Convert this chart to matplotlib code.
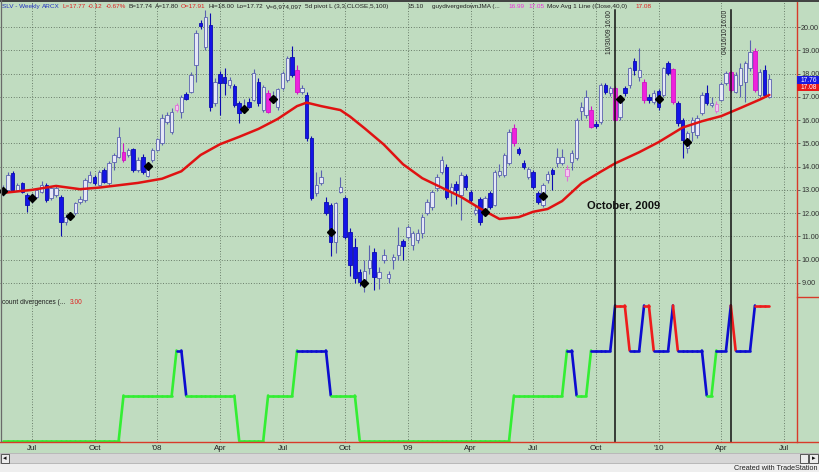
import matplotlib
matplotlib.use('Agg')
import matplotlib.pyplot as plt
from matplotlib.collections import LineCollection
from matplotlib.patches import Rectangle
from matplotlib.lines import Line2D
import matplotlib.transforms as mtransforms
import numpy as np
import pandas as pd

plt.rcParams['font.family'] = ['Liberation Sans', 'DejaVu Sans']

# ---------------- data ----------------
start_date = '2007-05-25'   # first weekly bar (Friday)

opens = [12.85, 13.0, 13.71, 13.0, 13.28, 12.78, 12.6, 12.71, 12.92, 13.21,
         12.64, 12.78, 12.71, 11.63, 11.8, 12.0, 12.49, 12.57, 13.35, 13.57,
         13.21, 13.85, 13.28, 14.21, 14.43, 14.64, 14.5, 14.74, 13.85, 14.43,
         13.6, 14.28, 14.71, 15.0, 15.93, 15.5, 16.43, 16.36, 17.11, 17.22,
         18.37, 20.18, 19.15, 20.09, 16.72, 17.98, 17.84, 17.51, 17.46, 16.72,
         16.4, 16.79, 16.86, 17.65, 16.43, 17.18, 16.9, 16.55, 17.4, 17.72,
         18.72, 18.15, 17.22, 17.08, 15.22, 12.85, 13.28, 12.49, 12.35, 10.77,
         12.92, 12.64, 11.2, 10.56, 9.46, 9.0, 9.63, 10.34, 9.2, 9.99,
         9.2, 9.99, 10.2, 10.8, 10.99, 10.63, 10.85, 11.13, 11.99, 12.28,
         13.07, 13.78, 14.0, 12.92, 13.25, 12.78, 13.6, 12.92, 11.99, 12.6,
         12.0, 12.85, 12.35, 13.64, 13.64, 14.14, 15.65, 14.74, 14.17, 13.57,
         13.78, 12.85, 12.35, 13.42, 13.85, 14.14, 14.14, 13.6, 14.21, 14.36,
         16.4, 16.22, 16.43, 15.85, 15.93, 17.51, 17.15, 17.37, 16.15, 17.37,
         17.51, 18.54, 17.84, 17.65, 16.98, 16.79, 17.26, 17.08, 18.44, 18.18,
         16.72, 16.0, 14.79, 15.5, 15.36, 16.29, 17.15, 16.65, 16.4, 16.86,
         17.58, 18.08, 17.22, 17.51, 17.65, 18.22, 18.98, 17.08, 18.15, 17.0]
highs = [13.2, 13.75, 13.8, 13.3, 13.35, 12.85, 12.85, 13.05, 13.4, 13.3,
         13.15, 13.15, 12.8, 11.95, 12.05, 12.5, 12.75, 13.5, 13.8, 13.65,
         13.85, 13.95, 14.25, 14.6, 15.72, 15.0, 14.8, 14.8, 14.4, 14.55,
         14.15, 14.8, 15.25, 16.25, 16.35, 16.5, 16.75, 17.08, 17.2, 18.05,
         19.85, 20.3, 20.73, 20.59, 17.8, 18.1, 18.23, 17.85, 17.55, 16.8,
         16.9, 16.95, 18.2, 17.8, 17.5, 17.3, 17.25, 17.4, 18.1, 18.75,
         19.18, 18.37, 17.5, 17.2, 15.3, 13.78, 13.85, 12.7, 12.45, 12.5,
         13.57, 12.75, 11.35, 10.93, 9.6, 10.0, 10.63, 10.5, 9.7, 10.45,
         9.5, 10.25, 11.4, 10.9, 11.5, 11.25, 11.3, 11.95, 12.6, 13.0,
         13.7, 14.46, 14.1, 13.3, 13.4, 13.75, 13.7, 13.0, 12.3, 12.7,
         12.75, 12.95, 13.85, 14.1, 14.6, 15.6, 15.82, 14.85, 14.3, 14.0,
         13.85, 12.95, 13.3, 13.8, 13.95, 14.79, 14.75, 14.05, 14.7, 16.1,
         16.79, 17.29, 16.6, 15.95, 17.6, 17.6, 17.45, 17.45, 17.05, 17.45,
         18.3, 18.65, 19.08, 17.75, 17.1, 17.3, 17.35, 18.3, 18.55, 18.25,
         16.8, 16.1, 15.55, 16.15, 16.2, 17.2, 17.5, 17.0, 16.8, 17.65,
         18.1, 18.15, 18.05, 18.44, 18.55, 19.44, 19.1, 18.2, 18.35, 18.0]
lows = [12.75, 12.95, 12.9, 12.95, 12.85, 12.06, 12.45, 12.65, 12.85, 12.5,
        12.55, 12.7, 11.0, 11.5, 11.75, 11.9, 12.4, 12.5, 13.3, 13.2,
        13.15, 13.3, 13.2, 13.85, 14.35, 14.2, 14.4, 13.75, 13.75, 13.7,
        13.55, 14.2, 14.65, 14.95, 15.85, 15.4, 16.35, 16.08, 16.85, 17.15,
        17.65, 19.9, 19.0, 16.4, 16.6, 16.22, 17.08, 17.4, 16.55, 15.86,
        16.3, 16.5, 16.8, 16.6, 16.35, 16.3, 16.85, 16.45, 17.3, 17.65,
        17.85, 17.1, 17.1, 15.1, 12.55, 12.75, 13.2, 11.9, 10.15, 10.29,
        12.85, 10.9, 9.3, 9.0, 8.85, 8.6, 9.4, 8.7, 8.75, 9.85,
        9.0, 9.6, 10.0, 9.99, 10.9, 10.4, 10.7, 10.95, 11.9, 12.15,
        12.95, 13.7, 12.6, 12.3, 12.4, 11.7, 13.0, 12.45, 11.9, 11.5,
        11.9, 12.2, 12.3, 13.55, 13.55, 14.05, 14.9, 14.5, 13.9, 13.45,
        13.05, 12.4, 12.25, 13.3, 13.0, 14.0, 14.05, 13.4, 13.85, 14.3,
        16.0, 16.1, 15.65, 15.65, 15.85, 17.1, 17.05, 15.95, 16.0, 17.05,
        17.4, 17.95, 17.7, 16.75, 16.75, 16.7, 16.45, 17.0, 17.95, 16.7,
        15.75, 14.36, 14.6, 15.1, 15.25, 16.2, 16.65, 16.55, 16.3, 16.8,
        17.5, 17.2, 17.15, 17.0, 16.79, 18.1, 17.2, 17.0, 17.0, 16.95]
closes = [13.05, 13.64, 13.0, 13.2, 12.92, 12.35, 12.75, 13.0, 13.21, 12.57,
          13.07, 13.07, 11.63, 11.85, 11.95, 12.42, 12.6, 13.42, 13.64, 13.28,
          13.78, 13.35, 14.17, 14.5, 15.29, 14.28, 14.71, 13.85, 14.28, 13.78,
          14.07, 14.71, 15.17, 16.08, 16.22, 16.36, 16.65, 17.0, 16.91, 17.94,
          19.73, 20.04, 20.44, 16.57, 17.65, 17.58, 17.58, 17.72, 16.65, 16.29,
          16.55, 16.57, 18.04, 16.72, 17.41, 16.36, 17.05, 17.32, 18.01, 18.65,
          17.94, 17.22, 17.37, 15.22, 12.64, 13.21, 13.57, 11.99, 10.77, 12.42,
          13.14, 10.99, 9.77, 9.2, 9.06, 9.5, 9.99, 9.27, 9.49, 10.2,
          9.39, 10.13, 10.63, 10.59, 11.39, 11.13, 11.13, 11.85, 12.49, 12.92,
          13.57, 14.28, 12.71, 13.14, 13.0, 13.64, 13.14, 12.57, 12.14, 11.63,
          12.65, 12.28, 13.78, 13.81, 14.5, 15.5, 15.0, 14.6, 13.97, 13.88,
          13.14, 12.49, 13.21, 13.68, 13.68, 14.43, 14.43, 13.9, 14.57, 16.0,
          16.55, 17.0, 15.72, 15.75, 17.51, 17.22, 17.37, 16.0, 16.94, 17.15,
          18.22, 18.15, 18.15, 16.86, 16.86, 17.18, 16.55, 18.22, 18.04, 16.79,
          15.86, 15.14, 15.43, 16.0, 16.08, 17.08, 16.72, 16.72, 16.7, 17.55,
          18.01, 17.29, 17.94, 18.22, 18.44, 18.94, 17.29, 18.08, 17.08, 17.77]

pink_bars = [25, 55, 61, 106, 122, 127, 133, 139, 151, 156]
pink_hollow_bars = [36, 117, 148]

pivot_idx = [0, 6, 14, 30, 50, 56, 68, 75, 100, 112, 128, 136, 142]
pivot_val = [12.95, 12.64, 11.88, 14.03, 16.46, 16.91, 11.18, 8.99, 12.04,
             12.75, 16.91, 16.91, 15.07]

ma_idx = [0, 6, 11, 16, 20, 24, 28, 33, 37, 41, 45, 49, 53, 57, 61, 63, 66,
          70, 72, 75, 79, 83, 87, 91, 95, 99, 103, 107, 110, 113, 116, 120,
          124, 127, 132, 136, 141, 145, 149, 153, 157, 159]
ma_val = [12.87, 13.0, 13.17, 13.03, 13.1, 13.2, 13.3, 13.48, 13.8, 14.5,
          14.96, 15.28, 15.62, 16.05, 16.6, 16.75, 16.6, 16.43, 16.15, 15.65,
          14.95, 14.1, 13.5, 13.1, 12.7, 12.2, 11.75, 11.83, 12.06, 12.18,
          12.52, 13.28, 13.78, 14.14, 14.62, 15.05, 15.68, 15.95, 16.17,
          16.52, 16.88, 17.08]

divergences = [0, 0, 0, 0, 0, 0, 0, 0, 0, 0,
               0, 0, 0, 0, 0, 0, 0, 0, 0, 0,
               0, 0, 0, 0, 0, 1, 1, 1, 1, 1,
               1, 1, 1, 1, 1, 1, 2, 2, 1, 1,
               1, 1, 1, 1, 1, 1, 1, 1, 1, 0,
               0, 0, 0, 0, 0, 1, 1, 1, 1, 1,
               1, 2, 2, 2, 2, 2, 2, 2, 1, 1,
               1, 1, 1, 1, 0, 0, 0, 0, 0, 0,
               0, 0, 0, 0, 0, 0, 0, 0, 0, 0,
               0, 0, 0, 0, 0, 0, 0, 0, 0, 0,
               0, 0, 0, 0, 0, 0, 1, 1, 1, 1,
               1, 1, 1, 1, 1, 1, 1, 2, 2, 1,
               1, 1, 2, 2, 2, 2, 2, 3, 3, 3,
               2, 2, 2, 3, 3, 2, 2, 2, 2, 3,
               2, 2, 2, 2, 2, 2, 1, 1, 2, 2,
               2, 3, 2, 2, 2, 2, 3, 3, 3, 3]

price_ticks = [9, 10, 11, 12, 13, 14, 15, 16, 17, 18, 19, 20]
event_dates = ['2009-10-30', '2010-04-16']
event_labels = ['10/30/09 16:00', '04/16/10 16:00']
last_price_label = '17.76'
ma_last_label = '17.08'

# ---------------- styling ----------------
BG = '#c0dcc0'
GRID = '#4f5f4f'
UP_FACE, UP_EDGE = '#e6e8f6', '#5a62b0'
DN_FACE, DN_EDGE = '#1414e6', '#0c0cb0'
PK_FACE, PK_EDGE = '#ee22dd', '#d014c4'
PH_FACE, PH_EDGE = '#f4c6f0', '#e070d8'

W, H = 820, 472
def fx(px): return px / W
def fy(py): return 1 - py / H

fig = plt.figure(figsize=(W / 100, H / 100), dpi=100)
fig.patch.set_facecolor(BG)
renderer = fig.canvas.get_renderer()

n = len(closes)
idx = np.arange(n)
dates = pd.date_range(start_date, periods=n + 6, freq='W-FRI')

tick_idx, tick_lab = [], []
for k in range(1, len(dates)):
    m = dates[k].month
    if m != dates[k - 1].month and m in (1, 4, 7, 10):
        tick_idx.append(k)
        tick_lab.append("'" + dates[k].strftime('%y') if m == 1 else dates[k].strftime('%b'))

ev_idx = [dates.get_loc(pd.Timestamp(d)) for d in event_dates]

# bar index -> pixel: px = 3 + 4.82 * i
XL = (-3 / 4.82, (797 - 3) / 4.82)

# main price axes: pixels y 2..294 ; price p at y = 27 + (20 - p) * 23.27
ax = fig.add_axes([0, fy(294), fx(797), 292 / H])
ax.set_facecolor(BG)
ax.set_xlim(*XL)
ax.set_ylim(20 - (294 - 27) / 23.27, 20 + (27 - 2) / 23.27)

# lower panel: pixels y 294..441.5 ; value v at y = 440.5 - 45 v
ax2 = fig.add_axes([0, fy(441.5), fx(797), (441.5 - 294) / H])
ax2.set_facecolor(BG)
ax2.set_xlim(*XL)
ax2.set_ylim((440.5 - 441.5) / 45, (440.5 - 294) / 45)

for a in (ax, ax2):
    a.set_axisbelow(True)
    for s in ('left', 'top', 'bottom'):
        a.spines[s].set_visible(False)
    a.spines['right'].set_color('#d83a2a')
    a.spines['right'].set_linewidth(1.0)
    a.set_xticks(tick_idx)
    a.grid(True, axis='x', color=GRID, ls=(0, (1, 2.2)), lw=0.6)

ax.grid(True, axis='y', color=GRID, ls=(0, (1, 2.2)), lw=0.6)
ax.tick_params(axis='x', length=0, labelbottom=False)
ax.yaxis.tick_right()
ax.set_yticks(price_ticks)
ax.set_yticklabels([f'{t:.2f}' for t in price_ticks], fontsize=5.2, color='#303030')
ax.tick_params(axis='y', length=2, width=0.6, color='#505050', pad=1)

ax2.set_yticks([])
ax2.set_xticks(tick_idx)
ax2.set_xticklabels(tick_lab, fontsize=5.8, color='#202020')
ax2.tick_params(axis='x', length=0, pad=2.5)

# ---------------- candles ----------------
face, edge = [], []
for i in range(n):
    if i in pink_bars:
        face.append(PK_FACE); edge.append(PK_EDGE)
    elif i in pink_hollow_bars:
        face.append(PH_FACE); edge.append(PH_EDGE)
    elif closes[i] >= opens[i]:
        face.append(UP_FACE); edge.append(UP_EDGE)
    else:
        face.append(DN_FACE); edge.append(DN_EDGE)

o = np.array(opens); c = np.array(closes)
body_b = np.minimum(o, c)
body_h = np.maximum(np.abs(c - o), 0.05)
ax.vlines(idx, lows, highs, colors=edge, lw=0.8, zorder=3)
ax.bar(idx, body_h, bottom=body_b, width=0.72, color=face, edgecolor=edge,
       linewidth=0.6, zorder=4)

# moving average
ax.plot(ma_idx, ma_val, color='#e01212', lw=1.8, zorder=5, solid_capstyle='round',
        solid_joinstyle='round')

# pivot diamonds
ax.plot(pivot_idx, pivot_val, ls='none', marker='D', ms=4.2, color='black', zorder=6)

# event lines
blend = mtransforms.blended_transform_factory(ax.transData, ax.transAxes)
ytop = (294 - 10) / 292
for ei, lab in zip(ev_idx, event_labels):
    ax.axvline(ei, ymin=0, ymax=ytop, color='#101010', lw=1.1, zorder=7)
    ax2.axvline(ei, color='#101010', lw=1.1, zorder=7)
    ax.annotate(lab, xy=(ei, ytop), xycoords=blend, xytext=(-3.8, 0),
                textcoords='offset points', rotation=90, ha='center', va='top',
                fontsize=4.8, color='#202020', zorder=8)

ax.text(121.1, 12.35, 'October, 2009', fontsize=8, fontweight='bold',
        color='#101010', va='center', ha='left')

# ---------------- divergence line ----------------
seg_cols = {0: '#33ee33', 1: '#33ee33', 2: '#0c0cd0', 3: '#ee1c1c'}
segs, cols = [], []
for i in range(n - 1):
    segs.append([(i, divergences[i]), (i + 1, divergences[i + 1])])
    cols.append(seg_cols[divergences[i]])
lc = LineCollection(segs, colors=cols, linewidths=1.9, capstyle='round', zorder=5)
ax2.add_collection(lc)

# ---------------- decorations ----------------
fig.add_artist(Line2D([0, 1], [fy(441.5), fy(441.5)], transform=fig.transFigure,
                      color='#d83a2a', lw=1.0))
fig.add_artist(Line2D([fx(797), 1], [fy(297), fy(297)], transform=fig.transFigure,
                      color='#d83a2a', lw=1.0))
fig.add_artist(Line2D([0, 1], [fy(0.6), fy(0.6)], transform=fig.transFigure,
                      color='#404040', lw=1.4))
fig.add_artist(Line2D([fx(0.5), fx(0.5)], [fy(0), fy(441)], transform=fig.transFigure,
                      color='#6a6a6a', lw=0.9))

fig.add_artist(Rectangle((0, 0), 1, (472 - 453) / H, transform=fig.transFigure,
                         facecolor='#eeeeee', edgecolor='none', zorder=0))
fig.add_artist(Rectangle((0, fy(463)), 1, 10 / H, transform=fig.transFigure,
                         facecolor='#d6d6d6', edgecolor='#a8a8a8', lw=0.5, zorder=1))
for (x0, x1, g) in [(1, 9, '\u25c2'), (800, 808, ''), (809, 818, '\u25b8')]:
    fig.add_artist(Rectangle((fx(x0), fy(462.5)), (x1 - x0) / W, 9 / H,
                             transform=fig.transFigure, facecolor='#ececec',
                             edgecolor='#404040', lw=0.6, zorder=2))
    if g:
        fig.text(fx((x0 + x1) / 2), fy(458), g, fontsize=5, ha='center', va='center',
                 family='DejaVu Sans', color='#101010', zorder=3)
fig.text(fx(818), fy(468), 'Created with TradeStation', fontsize=5.2, ha='right',
         va='center', color='#202020')

for (y0, y1, col, txt) in [(76, 84, '#1a1ae0', last_price_label), (84, 91, '#e81818', ma_last_label)]:
    fig.add_artist(Rectangle((fx(797), fy(y1)), 23 / W, (y1 - y0) / H,
                             transform=fig.transFigure, facecolor=col,
                             edgecolor='none', zorder=5))
    fig.text(fx(808.5), fy((y0 + y1) / 2), txt, fontsize=4.8, color='white',
             ha='center', va='center', zorder=6)


def place_row(items, ypx, fs, gap=2.5):
    prev_end = -1e9
    for xp, t, col in items:
        x = max(xp, prev_end + gap)
        tt = fig.text(fx(x), fy(ypx), t, fontsize=fs, color=col, ha='left', va='center')
        prev_end = tt.get_window_extent(renderer).x1


header = [
    (2, 'SLV - Weekly', '#2030c0'),
    (40, 'ARCX', '#2030c0'),
    (60, 'L=17.77', '#e02020'),
    (86, '-0.12', '#e02020'),
    (100, '-0.67%', '#e02020'),
    (126, 'B=17.74', '#202020'),
    (145, 'A=17.80', '#202020'),
    (164, 'O=17.91', '#e02020'),
    (190, 'Hi=18.00', '#202020'),
    (213, 'Lo=17.72', '#202020'),
    (238, 'V=6,974,097', '#202020'),
    (270, '5d pivot L (3,3,CLOSE,5,100)', '#202020'),
    (407, '15.10', '#202020'),
    (432, 'guydivergedownJMA (...', '#202020'),
    (508, '16.99', '#ee30dd'),
    (528, '17.05', '#ee30dd'),
    (545, 'Mov Avg 1 Line (Close,40,0)', '#202020'),
    (635, '17.08', '#e02020'),
]
place_row(header, 6.5, 4.6)

place_row([(2, 'count divergences (...', '#202020'), (70, '3.00', '#e02020')], 302.5, 4.8)

fig.savefig('out.png', dpi=100, facecolor=BG)
